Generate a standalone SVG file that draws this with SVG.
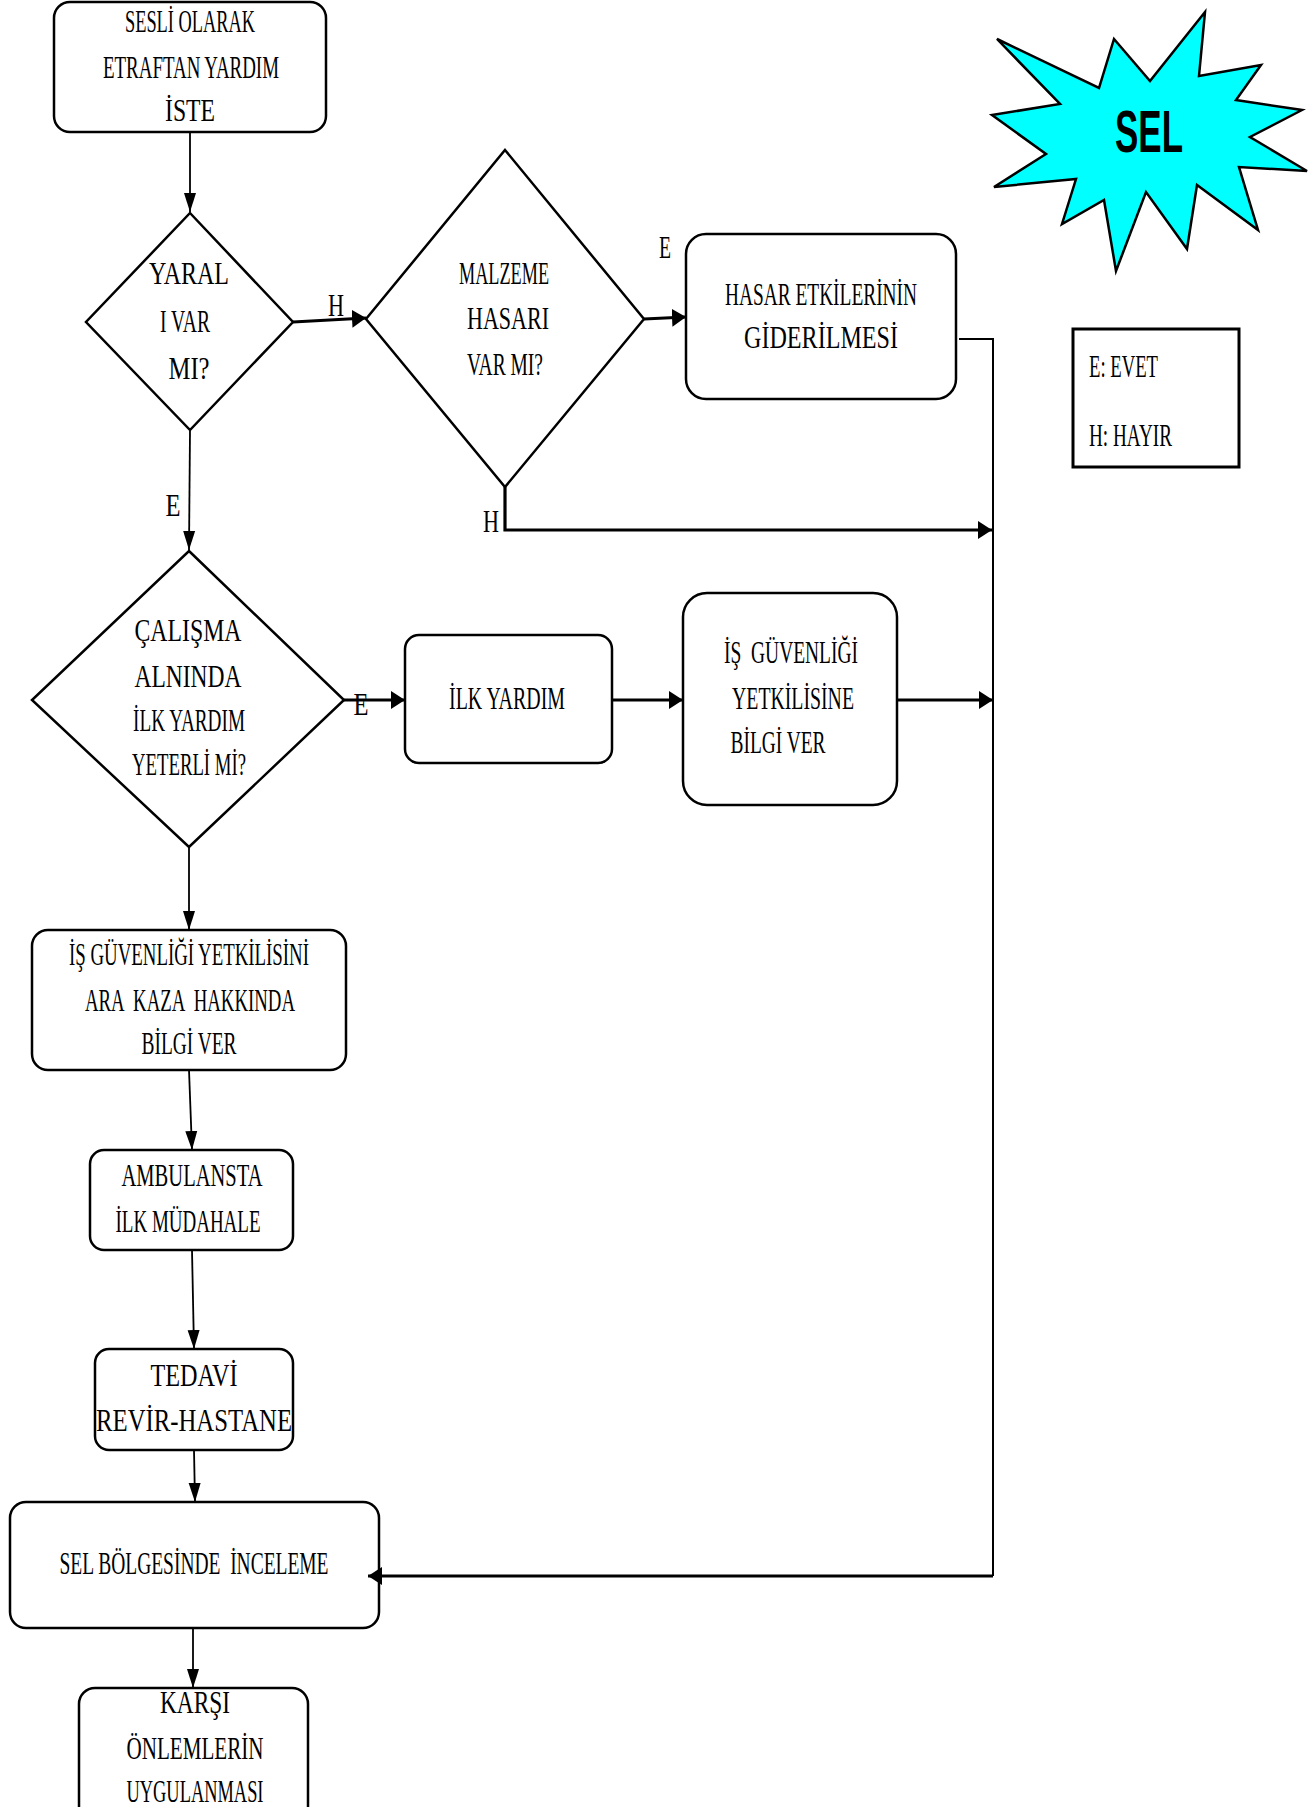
<svg xmlns="http://www.w3.org/2000/svg" width="1308" height="1807" viewBox="0 0 1308 1807">
<style>
.bx{fill:#fff;stroke:#000;stroke-width:2.5}
.dm{fill:#fff;stroke:#000;stroke-width:2.5}
.t{font-family:"Liberation Serif","Times New Roman",serif;font-size:32px;fill:#000;text-anchor:middle}
.tl{font-family:"Liberation Serif","Times New Roman",serif;font-size:32px;fill:#000}
.thin{fill:none;stroke:#000;stroke-width:1.8}
.thick{fill:none;stroke:#000;stroke-width:3.2}
.ret{fill:none;stroke:#000;stroke-width:2}
</style>
<defs>
<marker id="ah" markerUnits="userSpaceOnUse" markerWidth="20" markerHeight="14" refX="19" refY="6" orient="auto" viewBox="0 0 20 12">
<path d="M0,0 L19,6 L0,12 Z" fill="#000"/>
</marker>
<marker id="ahb" markerUnits="userSpaceOnUse" markerWidth="15" markerHeight="20" refX="14" refY="9" orient="auto" viewBox="0 0 15 18">
<path d="M0,0 L14,9 L0,18 Z" fill="#000"/>
</marker>
</defs>
<rect width="1308" height="1807" fill="#fff"/>

<g id="n-start">
<rect class="bx" x="54" y="2" width="272" height="130" rx="16"/>
<text class="t" x="190" y="32" textLength="130" lengthAdjust="spacingAndGlyphs">SESLİ OLARAK</text>
<text class="t" x="191" y="78" textLength="176" lengthAdjust="spacingAndGlyphs">ETRAFTAN YARDIM</text>
<text class="t" x="190" y="121" textLength="50" lengthAdjust="spacingAndGlyphs">İSTE</text>
</g>

<g id="n-yarali">
<polygon class="dm" points="190,213 293,322 190,430 86,322"/>
<text class="t" x="189" y="284" font-size="34" textLength="80" lengthAdjust="spacingAndGlyphs">YARAL</text>
<text class="t" x="185" y="332" font-size="34" textLength="50" lengthAdjust="spacingAndGlyphs">I VAR</text>
<text class="t" x="189" y="379" font-size="34" textLength="41" lengthAdjust="spacingAndGlyphs">MI?</text>
</g>

<g id="n-malzeme">
<polygon class="dm" points="505,150 644,319 505,487 366,319"/>
<text class="t" x="504" y="284" textLength="90" lengthAdjust="spacingAndGlyphs">MALZEME</text>
<text class="t" x="508" y="329" textLength="82" lengthAdjust="spacingAndGlyphs">HASARI</text>
<text class="t" x="505" y="375" textLength="76" lengthAdjust="spacingAndGlyphs">VAR MI?</text>
</g>

<g id="n-hasar">
<rect class="bx" x="686" y="234" width="270" height="165" rx="20"/>
<text class="t" x="821" y="305" textLength="192" lengthAdjust="spacingAndGlyphs">HASAR ETKİLERİNİN</text>
<text class="t" x="821" y="348" textLength="154" lengthAdjust="spacingAndGlyphs">GİDERİLMESİ</text>
</g>

<g id="n-sel-star">
<polygon points="997,39 1099,88 1114,39 1150,81 1205,12 1199,76 1261,65 1236,100 1302,110 1250,137 1307,171 1239,167 1258,230 1197,185 1187,249 1146,192 1116,271 1104,200 1062,224 1076,179 994,187 1046,154 992,115 1060,104" fill="#00FFFF" stroke="#000" stroke-width="2.5" stroke-linejoin="miter"/>
<text x="1149" y="152" font-family="'Liberation Sans',Arial,sans-serif" font-weight="bold" font-size="60" text-anchor="middle" textLength="68" lengthAdjust="spacingAndGlyphs">SEL</text>
</g>

<g id="n-legend">
<rect x="1073" y="329" width="166" height="138" fill="#fff" stroke="#000" stroke-width="3"/>
<text class="tl" x="1089" y="377" textLength="69" lengthAdjust="spacingAndGlyphs">E: EVET</text>
<text class="tl" x="1089" y="446" textLength="83" lengthAdjust="spacingAndGlyphs">H: HAYIR</text>
</g>

<g id="n-calisma">
<polygon class="dm" points="189,551 344,700 189,847 32,700"/>
<text class="t" x="188" y="641" textLength="107" lengthAdjust="spacingAndGlyphs">ÇALIŞMA</text>
<text class="t" x="188" y="687" textLength="107" lengthAdjust="spacingAndGlyphs">ALNINDA</text>
<text class="t" x="189" y="731" textLength="112" lengthAdjust="spacingAndGlyphs">İLK YARDIM</text>
<text class="t" x="189" y="775" textLength="114" lengthAdjust="spacingAndGlyphs">YETERLİ Mİ?</text>
</g>

<g id="n-ilkyardim">
<rect class="bx" x="405" y="635" width="207" height="128" rx="14"/>
<text class="t" x="507" y="709" textLength="116" lengthAdjust="spacingAndGlyphs">İLK YARDIM</text>
</g>

<g id="n-isguv">
<rect class="bx" x="683" y="593" width="214" height="212" rx="24"/>
<text class="t" x="791" y="663" xml:space="preserve" textLength="134" lengthAdjust="spacingAndGlyphs">İŞ  GÜVENLİĞİ</text>
<text class="t" x="793" y="709" textLength="122" lengthAdjust="spacingAndGlyphs">YETKİLİSİNE</text>
<text class="t" x="778" y="753" textLength="95" lengthAdjust="spacingAndGlyphs">BİLGİ VER</text>
</g>

<g id="n-ara">
<rect class="bx" x="32" y="930" width="314" height="140" rx="16"/>
<text class="t" x="189" y="965" textLength="240" lengthAdjust="spacingAndGlyphs">İŞ GÜVENLİĞİ YETKİLİSİNİ</text>
<text class="t" x="190" y="1011" xml:space="preserve" textLength="210" lengthAdjust="spacingAndGlyphs">ARA  KAZA  HAKKINDA</text>
<text class="t" x="189" y="1054" textLength="95" lengthAdjust="spacingAndGlyphs">BİLGİ VER</text>
</g>

<g id="n-ambulans">
<rect class="bx" x="90" y="1150" width="203" height="100" rx="14"/>
<text class="t" x="192" y="1186" textLength="141" lengthAdjust="spacingAndGlyphs">AMBULANSTA</text>
<text class="t" x="188" y="1232" textLength="145" lengthAdjust="spacingAndGlyphs">İLK MÜDAHALE</text>
</g>

<g id="n-tedavi">
<rect class="bx" x="95" y="1349" width="198" height="101" rx="14"/>
<text class="t" x="194" y="1386" textLength="87" lengthAdjust="spacingAndGlyphs">TEDAVİ</text>
<text class="t" x="194" y="1431" font-size="34" textLength="196" lengthAdjust="spacingAndGlyphs">REVİR-HASTANE</text>
</g>

<g id="n-selbolge">
<rect class="bx" x="10" y="1502" width="369" height="126" rx="16"/>
<text class="t" x="194" y="1574" xml:space="preserve" textLength="269" lengthAdjust="spacingAndGlyphs">SEL BÖLGESİNDE  İNCELEME</text>
</g>

<g id="n-karsi">
<rect class="bx" x="79" y="1688" width="229" height="140" rx="16"/>
<text class="t" x="195" y="1713" textLength="70" lengthAdjust="spacingAndGlyphs">KARŞI</text>
<text class="t" x="195" y="1759" textLength="137" lengthAdjust="spacingAndGlyphs">ÖNLEMLERİN</text>
<text class="t" x="195" y="1802" textLength="137" lengthAdjust="spacingAndGlyphs">UYGULANMASI</text>
</g>

<g id="connectors">
<path class="thin" d="M190,132 L190,212" marker-end="url(#ah)"/>
<path class="thick" d="M293,322 L366,318" marker-end="url(#ahb)"/>
<path class="thick" d="M644,319 L686,317" marker-end="url(#ahb)"/>
<path class="ret" d="M959,339 L993,339 L993,1576"/>
<path class="thick" d="M993,1576 L368,1576" marker-end="url(#ahb)"/>
<path class="thick" d="M505,487 L505,530 L992,530" marker-end="url(#ahb)"/>
<path class="thin" d="M190,431 L189,550" marker-end="url(#ah)"/>
<path class="thick" d="M344,700 L405,700" marker-end="url(#ahb)"/>
<path class="thick" d="M612,700 L683,700" marker-end="url(#ahb)"/>
<path class="thick" d="M897,700 L993,700" marker-end="url(#ahb)"/>
<path class="thin" d="M189,847 L189,930" marker-end="url(#ah)"/>
<path class="thin" d="M189,1070 L192,1150" marker-end="url(#ah)"/>
<path class="thin" d="M192,1250 L194,1349" marker-end="url(#ah)"/>
<path class="thin" d="M194,1450 L195,1502" marker-end="url(#ah)"/>
<path class="thin" d="M193,1628 L193,1688" marker-end="url(#ah)"/>
<text class="t" x="336" y="316" textLength="16" lengthAdjust="spacingAndGlyphs">H</text>
<text class="t" x="491" y="532" textLength="16" lengthAdjust="spacingAndGlyphs">H</text>
<text class="t" x="173" y="516" textLength="15" lengthAdjust="spacingAndGlyphs">E</text>
<text class="t" x="665" y="258" textLength="12" lengthAdjust="spacingAndGlyphs">E</text>
<text class="t" x="361" y="715" textLength="15" lengthAdjust="spacingAndGlyphs">E</text>
</g>
</svg>
